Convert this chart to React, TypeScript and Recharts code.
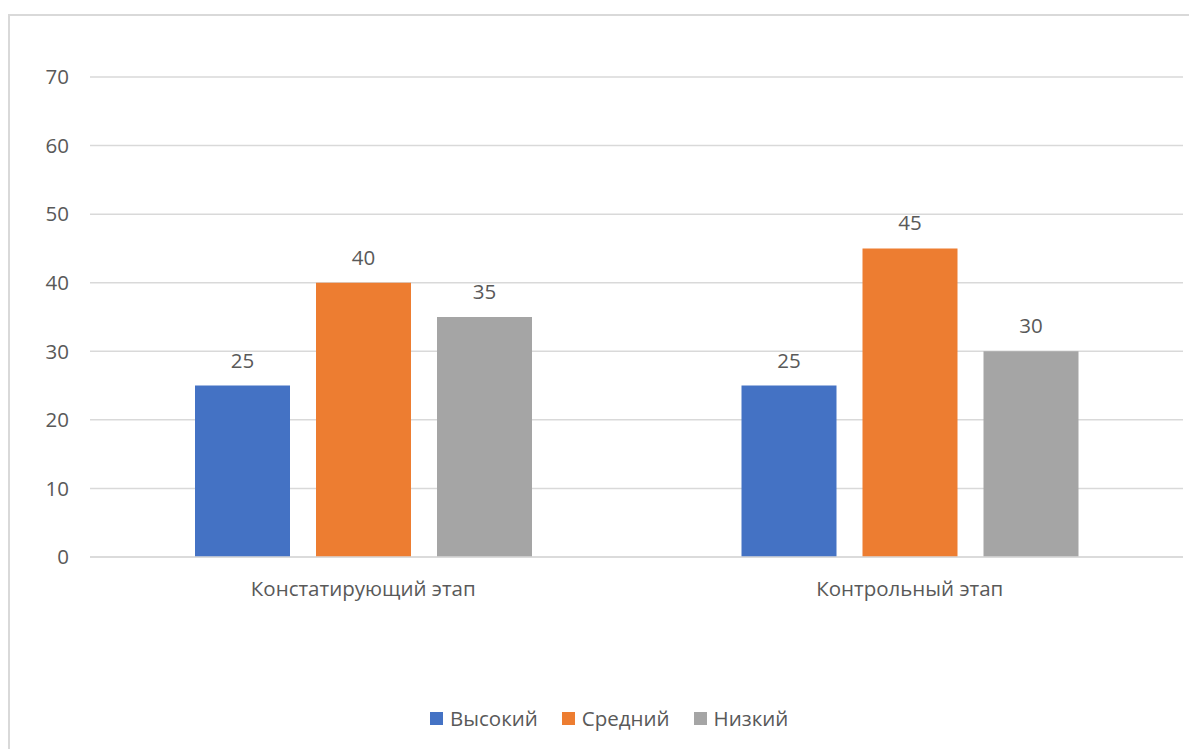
import { BarChart, Bar, XAxis, YAxis, CartesianGrid, Legend, LabelList } from 'recharts'

const stages = ['Констатирующий этап', 'Контрольный этап']
const high = [25, 25]
const medium = [40, 45]
const low = [35, 30]
const yTicks = [0, 10, 20, 30, 40, 50, 60, 70]

const series = [
  { key: 'high', name: 'Высокий', color: '#4472C4' },
  { key: 'medium', name: 'Средний', color: '#ED7D31' },
  { key: 'low', name: 'Низкий', color: '#A5A5A5' },
]

const data = stages.map((stage, i) => ({
  stage,
  high: high[i],
  medium: medium[i],
  low: low[i],
}))

const FONT = '"Open Sans", "Noto Sans", sans-serif'
const TEXT = '#595959'
const SIZE = 20.5

// legend keeps the series order instead of sorting by name
function LegendRow() {
  return (
    <div style={{ display: 'flex', alignItems: 'center', height: 24, fontFamily: FONT, fontSize: SIZE, color: TEXT }}>
      {series.map((s) => (
        <div key={s.key} style={{ display: 'flex', alignItems: 'center', marginRight: 24 }}>
          <span style={{ width: 13, height: 13, background: s.color, marginRight: 7, display: 'inline-block' }} />
          <span>{s.name}</span>
        </div>
      ))}
    </div>
  )
}

export default function App() {
  return (
    <div
      style={{
        position: 'absolute',
        left: 8,
        top: 14,
        width: 1181,
        height: 735,
        boxSizing: 'border-box',
        borderTop: '2px solid #d9d9d9',
        borderLeft: '2px solid #d9d9d9',
        background: '#fff',
        overflow: 'hidden',
      }}
    >
      <BarChart
        width={1179}
        height={733}
        data={data}
        margin={{ top: 61, right: 6, left: 0, bottom: 128 }}
        barSize={95}
        barGap={26}
      >
        <CartesianGrid vertical={false} stroke="#d9d9d9" strokeWidth={1.5} />
        <XAxis
          dataKey="stage"
          height={40}
          axisLine={{ stroke: '#d9d9d9', strokeWidth: 1.5 }}
          tickLine={false}
          tickSize={0}
          tickMargin={24}
          tick={{ fill: TEXT, fontSize: SIZE, fontFamily: FONT }}
        />
        <YAxis
          width={80}
          domain={[0, 70]}
          ticks={yTicks}
          axisLine={false}
          tickLine={false}
          tickSize={0}
          tickMargin={21}
          tick={{ fill: TEXT, fontSize: SIZE, fontFamily: FONT }}
        />
        <Legend
          verticalAlign="bottom"
          content={<LegendRow />}
          wrapperStyle={{ top: 690, left: 420, width: 'auto', bottom: 'auto' }}
        />
        {series.map((s) => (
          <Bar key={s.key} dataKey={s.key} name={s.name} fill={s.color} isAnimationActive={false}>
            <LabelList dataKey={s.key} position="top" offset={18} fill={TEXT} fontSize={SIZE} fontFamily={FONT} />
          </Bar>
        ))}
      </BarChart>
    </div>
  )
}
